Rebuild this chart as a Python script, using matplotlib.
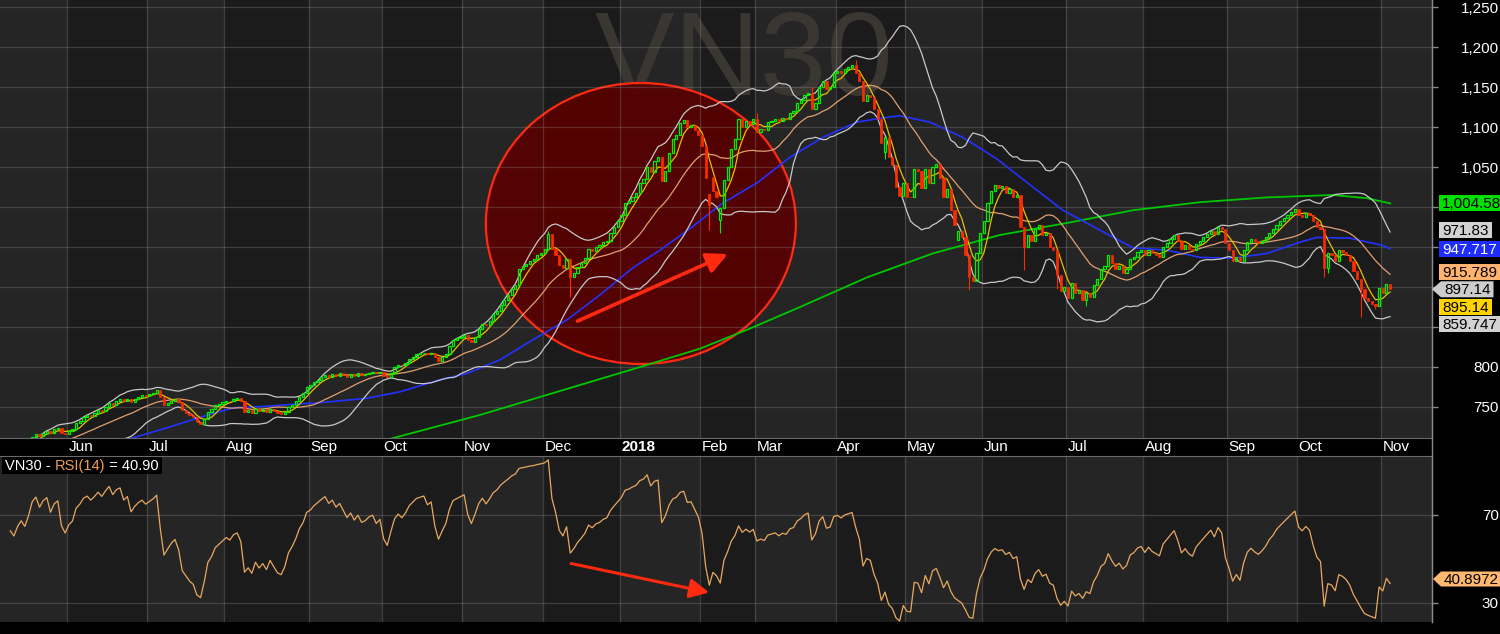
import numpy as np
import pandas as pd
import matplotlib
matplotlib.use("Agg")
import matplotlib.pyplot as plt
from matplotlib.patches import Rectangle, Ellipse, Polygon, FancyArrowPatch
from matplotlib.transforms import IdentityTransform, blended_transform_factory
from matplotlib.ticker import FuncFormatter

plt.rcParams['font.family'] = ['Liberation Sans', 'DejaVu Sans']

# ---------------- data (VN30 daily closes) ----------------
history_close = [690, 693, 690, 694, 691, 694, 690, 694, 692, 695,
                 692, 695, 693, 696, 699, 698, 701, 703, 702, 706]
close_may17 = [713, 716, 714, 718, 720, 717, 722, 724, 718, 716]
close_jun17 = [720, 722, 730, 733, 738, 740, 739, 742, 746, 745, 750, 755, 753, 758, 760, 757, 760, 756, 760, 763, 765, 764]
close_jul17 = [766, 768, 771, 762, 752, 755, 758, 760, 756, 746, 743, 740, 738, 731, 729, 735, 744, 747, 752, 754, 756]
close_aug17 = [758, 757, 760, 761, 758, 744, 746, 743, 748, 745, 747, 744, 748, 745, 742, 741, 744, 750, 753, 757, 763, 767, 775]
close_sep17 = [777, 781, 784, 787, 790, 788, 791, 789, 792, 790, 788, 791, 789, 792, 790, 791, 793, 794, 792, 794]
close_oct17 = [789, 787, 793, 800, 803, 802, 805, 810, 813, 816, 817, 818, 816, 818, 812, 808, 812, 816, 826, 834, 836, 838]
close_nov17 = [840, 834, 831, 838, 848, 854, 852, 858, 866, 870, 878, 884, 890, 898, 903, 922, 926, 929, 933, 935, 940, 943]
close_dec17 = [948, 966, 948, 940, 928, 924, 935, 913, 918, 925, 930, 936, 947, 945, 950, 952, 956, 958, 968, 975, 982]
close_jan18 = [990, 1005, 1008, 1013, 1017, 1030, 1035, 1050, 1044, 1058, 1062, 1033, 1045, 1068, 1085, 1090, 1105, 1109, 1100, 1102, 1096, 1090]
close_feb18 = [1076, 1036, 1002, 1020, 1013, 999, 1034, 1050, 1072, 1085, 1110, 1100, 1108, 1104, 1110]
close_mar18 = [1094, 1098, 1096, 1106, 1108, 1110, 1107, 1111, 1110, 1118, 1120, 1130, 1134, 1140, 1143, 1122, 1130, 1150, 1158, 1148, 1150, 1168]
close_apr18 = [1170, 1168, 1173, 1175, 1177, 1167, 1158, 1132, 1140, 1138, 1122, 1110, 1080, 1088, 1062, 1052, 1025, 1014, 1030]
close_may18 = [1013, 1012, 1047, 1045, 1024, 1048, 1030, 1050, 1054, 1036, 1012, 1022, 996, 978, 970, 962, 940, 912, 908, 942, 968]
close_jun18 = [982, 1005, 1020, 1028, 1024, 1026, 1018, 1022, 1012, 1015, 975, 950, 965, 958, 972, 978, 965, 968, 950, 946, 915, 895, 900]
close_jul18 = [886, 905, 893, 896, 884, 892, 888, 902, 910, 922, 926, 940, 930, 922, 926, 918, 922, 935, 938, 944, 946]
close_aug18 = [940, 946, 942, 940, 938, 950, 955, 960, 965, 958, 948, 952, 948, 946, 954, 958, 962, 966, 970, 966, 975, 972, 955]
close_sep18 = [946, 933, 938, 932, 946, 956, 960, 957, 955, 958, 962, 968, 972, 978, 982, 986, 990, 994, 998]
close_oct18 = [990, 988, 992, 990, 982, 975, 972, 924, 942, 940, 932, 946, 944, 940, 933, 920, 910, 898, 886, 882, 879, 876, 899]
close_nov18 = [893, 904, 897.14]

month_names = ['Jun', 'Jul', 'Aug', 'Sep', 'Oct', 'Nov', 'Dec', '2018', 'Feb', 'Mar',
               'Apr', 'May', 'Jun', 'Jul', 'Aug', 'Sep', 'Oct', 'Nov']
month_closes = [close_jun17, close_jul17, close_aug17, close_sep17, close_oct17, close_nov17,
                close_dec17, close_jan18, close_feb18, close_mar18, close_apr18, close_may18,
                close_jun18, close_jul18, close_aug18, close_sep18, close_oct18, close_nov18]

# opens differing from the previous close (gaps), and long wicks
open_override = {175: 1016, 176: 1037, 178: 984, 223: 1069, 243: 959}
low_override = {137: 888, 175: 971, 178: 968, 223: 1060, 246: 896, 261: 921, 270: 898,
                278: 876, 343: 912, 344: 918, 353: 862, 357: 872}
high_override = {131: 970, 188: 1118, 203: 1150, 215: 1184}

# 50-day (blue) and 200-day (green) averages (bar index, value)
ma50_idx = [15, 26.8, 35.8, 44.9, 54.2, 63.2, 67.8, 81.5, 90.5, 101.4, 108.8, 117.8, 126.8, 136.1,
            145.1, 154.1, 161.5, 169.7, 178.7, 188, 197, 206, 215.3, 221.6, 227.1, 235.3, 244.3,
            253.6, 263.4, 271.6, 280.9, 290.8, 300.1, 309.1, 318.1, 327.4, 336.4, 341, 350, 359, 361]
ma50_val = [708, 724, 737, 749, 751, 754, 755, 761, 769, 784, 792, 809, 834, 859,
            890, 924, 946, 973, 1005, 1030, 1062, 1087, 1106, 1111, 1114, 1106, 1087,
            1060, 1025, 996, 973, 949, 946, 937, 936, 942, 956, 962, 961, 952, 947.717]
ma200_idx = [86, 112.3, 134.2, 156.1, 172.5, 186.1, 199.8, 218.1, 236.1, 254.4, 272.7, 290.8,
             309.1, 327.4, 345.4, 354.7, 361]
ma200_val = [708, 740, 770, 800, 823, 848, 875, 912, 942, 965, 980, 996,
             1006, 1012, 1015, 1011, 1004.58]

tag_values = [1004.58, 971.83, 947.717, 915.789, 897.14, 895.14, 859.747]
tag_texts = ['1,004.58', '971.83', '947.717', '915.789', '897.14', '895.14', '859.747']
tag_face = ['#00e000', '#d2d2d2', '#1f2cff', '#ffb36e', '#cdcdcd', '#ffd400', '#d2d2d2']
tag_textc = ['black', 'black', 'white', 'black', 'black', 'black', 'black']
rsi_last_text = '40.8972'
rsi_last_value = 40.8972
rsi_title_value = '40.90'

# ---------------- derived series ----------------
first_idx = -len(close_may17)
closes = close_may17 + [v for m in month_closes for v in m]
idx = np.arange(first_idx, first_idx + len(closes))
month_start = []
pos = 0
for m in month_closes:
    month_start.append(pos)
    pos += len(m)

all_idx = np.arange(first_idx - len(history_close), first_idx + len(closes))
s = pd.Series(history_close + closes, index=all_idx, dtype=float)
ma5 = s.rolling(5).mean()
ma20 = s.rolling(20).mean()
sd20 = s.rolling(20).std(ddof=0)
bb_up = ma20 + 2 * sd20
bb_lo = ma20 - 2 * sd20
d = s.diff()
gain = d.clip(lower=0)
loss = -d.clip(upper=0)
ag = gain.ewm(alpha=1 / 14, adjust=True, min_periods=14).mean()
al = loss.ewm(alpha=1 / 14, adjust=True, min_periods=14).mean()
rsi = 100 - 100 / (1 + ag / al)

opens = s.shift(1)
for k, v in open_override.items():
    opens[k] = v
o = opens.loc[idx].values
c = s.loc[idx].values
body_lo = np.minimum(o, c)
body_hi = np.maximum(o, c)
lo = body_lo.copy()
hi = body_hi.copy()
for k, v in low_override.items():
    lo[k - first_idx] = v
for k, v in high_override.items():
    hi[k - first_idx] = v

# ---------------- figure ----------------
W, H = 1500, 634
fig = plt.figure(figsize=(15, 6.34), dpi=100, facecolor='black')
ax = fig.add_axes([0, 1 - 438 / H, 1432 / W, 438 / H])
ax2 = fig.add_axes([0, 1 - 622 / H, 1432 / W, 166 / H])

XMIN, XMAX = -18.8, 372.46
LIGHT, DARK = '#252525', '#1b1b1b'
GRID = '#9a9a9a'
GREEN_C, RED_C = '#00f000', '#ff2a00'

bounds = [XMIN] + [m - 0.5 for m in month_start] + [XMAX]
for a in (ax, ax2):
    a.set_xlim(XMIN, XMAX)
    a.set_facecolor(LIGHT)
    for k in range(len(bounds) - 1):
        col = DARK if k % 2 == 1 else LIGHT
        a.axvspan(bounds[k], bounds[k + 1], color=col, zorder=0, lw=0)
    for m in month_start:
        a.axvline(m - 0.5, color=GRID, alpha=0.28, lw=0.9, zorder=2)
    for sp in ('left', 'top', 'bottom'):
        a.spines[sp].set_visible(False)
    a.spines['right'].set_color('#8a8a8a')
    a.tick_params(axis='x', which='both', bottom=False, labelbottom=False)

# main panel
YMIN, YMAX = 711.25, 1258.75
ax.set_ylim(YMIN, YMAX)
pticks = list(range(750, 1251, 50))
for t in pticks:
    ax.axhline(t, color=GRID, alpha=0.28, lw=0.9, zorder=2)
ax.spines['bottom'].set_visible(True)
ax.spines['bottom'].set_color('#6a6a6a')

ax.text(0.5196, 0.852, 'VN30', transform=ax.transAxes, fontsize=86, color='#3a3631',
        ha='center', va='center', zorder=1)

circ = Ellipse((156.3, 979.4), 310 / 3.66, 281 / 0.8, facecolor='#580000', alpha=0.92,
               edgecolor='none', zorder=1.5)
ax.add_patch(circ)
circ_edge = Ellipse((156.3, 979.4), 310 / 3.66, 281 / 0.8, facecolor='none',
                    edgecolor='#ff2a10', lw=1.6, zorder=1.6)
ax.add_patch(circ_edge)

vis = ma5.index >= first_idx
ax.plot(ma200_idx, ma200_val, color='#00c800', lw=1.3, zorder=4)
ax.plot(ma50_idx, ma50_val, color='#2233ff', lw=1.2, zorder=4)
ax.plot(ma20.index[vis], bb_up[vis], color='#c8c8c8', lw=0.9, zorder=4)
ax.plot(ma20.index[vis], bb_lo[vis], color='#c8c8c8', lw=0.9, zorder=4)
ax.plot(ma20.index[vis], ma20[vis], color='#e0a070', lw=0.9, zorder=4)
ax.plot(ma5.index[vis], ma5[vis], color='#e8c000', lw=0.9, zorder=4.5)

up = c >= o
wcol = np.where(up, GREEN_C, RED_C)
ax.vlines(idx, lo, body_lo, colors=wcol, lw=0.8, zorder=5)
ax.vlines(idx, body_hi, hi, colors=wcol, lw=0.8, zorder=5)
ax.bar(idx[up], (c - o)[up], bottom=o[up], width=0.6, facecolor='none',
       edgecolor=GREEN_C, linewidth=0.9, zorder=6)
ax.bar(idx[~up], (o - c)[~up], bottom=c[~up], width=0.62, color=RED_C,
       edgecolor=RED_C, linewidth=0.5, zorder=6)

ax.add_patch(FancyArrowPatch((138.3, 856), (180.7, 942.5), arrowstyle='-|>,head_length=0.9,head_width=0.45',
                             mutation_scale=14, color='#ff2a10', lw=2.6, zorder=7))

ax.yaxis.tick_right()
ax.set_yticks(pticks)
ax.yaxis.set_major_formatter(FuncFormatter(lambda v, p: f"{v:,.0f}"))
ax.tick_params(axis='y', colors='#8a8a8a', labelcolor='white', labelsize=11, length=4,
               width=1, pad=44, direction='out')
for lbl in ax.get_yticklabels():
    lbl.set_horizontalalignment('right')

# month labels
btr = blended_transform_factory(ax.transData, ax.transAxes)
for name, m in zip(month_names, month_start):
    ax.text(m - 0.5 + 0.45, -0.0205, name, transform=btr, color='white', fontsize=11,
            ha='left', va='center', fontweight='bold' if name == '2018' else 'normal')

# RSI panel
RMIN, RMAX = 21.36, 96.8
ax2.set_ylim(RMIN, RMAX)
for t in (30, 70):
    ax2.axhline(t, color=GRID, alpha=0.28, lw=0.9, zorder=2)
ax2.spines['top'].set_visible(True)
ax2.spines['top'].set_color('#6a6a6a')
rvis = rsi.index >= -17
ax2.plot(rsi.index[rvis], rsi[rvis], color='#e8a860', lw=0.9, zorder=4)
ax2.add_patch(FancyArrowPatch((136.5, 48.2), (175.7, 34.5), arrowstyle='-|>,head_length=0.9,head_width=0.45',
                              mutation_scale=13, color='#ff2a10', lw=2.2, zorder=7))
ax2.yaxis.tick_right()
ax2.set_yticks([30, 70])
ax2.tick_params(axis='y', colors='#8a8a8a', labelcolor='white', labelsize=11, length=4,
                width=1, pad=44, direction='out')
for lbl in ax2.get_yticklabels():
    lbl.set_horizontalalignment('right')

fig.add_artist(plt.Line2D([1431.5 / W, 1431.5 / W], [1 - 622 / H, 1], transform=fig.transFigure,
                          color='#8a8a8a', lw=1))

# ---------------- value tags on the right ----------------
fig.canvas.draw()
renderer = fig.canvas.get_renderer()
ID = IdentityTransform()


def disp_y(a, v):
    return a.transData.transform((0, v))[1]


anchor = tag_texts.index('897.14')
ys = [disp_y(ax, v) for v in tag_values]
for k in range(anchor - 1, -1, -1):
    ys[k] = max(ys[k], ys[k + 1] + 17.5)
for k in range(anchor + 1, len(ys)):
    ys[k] = min(ys[k], ys[k - 1] - 17.5)

# price labels that sit under a tag are hidden by it
for lbl, t in zip(ax.get_yticklabels(), pticks):
    ty_ = disp_y(ax, t)
    if any(abs(ty_ - y) < 14 for y in ys):
        lbl.set_visible(False)

for k, (txt, y) in enumerate(zip(tag_texts, ys)):
    arrow = (k == anchor)
    x0 = 1441 if arrow else 1439
    t = fig.text(x0 + 3, y - 5, txt, transform=ID, color=tag_textc[k], fontsize=11,
                 ha='left', va='baseline', zorder=11)
    w = t.get_window_extent(renderer).width + 6
    if arrow:
        p = Polygon([(1432, y), (x0, y + 8), (x0 + w, y + 8), (x0 + w, y - 8), (x0, y - 8)],
                    closed=True, transform=ID, facecolor=tag_face[k], edgecolor='none', zorder=10)
    else:
        p = Rectangle((x0, y - 8), w, 16, transform=ID, facecolor=tag_face[k], edgecolor='none', zorder=10)
    fig.add_artist(p)

yr = disp_y(ax2, rsi_last_value)
t = fig.text(1444, yr - 5, rsi_last_text, transform=ID, color='black', fontsize=11,
             ha='left', va='baseline', zorder=11)
w = t.get_window_extent(renderer).width + 6
fig.add_artist(Polygon([(1433, yr), (1441, yr + 7.5), (1441 + w, yr + 7.5), (1441 + w, yr - 7.5),
                        (1441, yr - 7.5)], closed=True, transform=ID, facecolor='#ffb870',
                       edgecolor='none', zorder=10))

# RSI title
ty = H - 470
parts = [('VN30 - ', 'white'), ('RSI(14)', '#f0a050'), (' = ' + rsi_title_value, 'white')]
x = 5
for s_txt, col in parts:
    tt = fig.text(x, ty, s_txt, transform=ID, color=col, fontsize=10.5, ha='left',
                  va='baseline', zorder=11)
    x += tt.get_window_extent(renderer).width
fig.add_artist(Rectangle((2, H - 474), x - 2 + 3, 17, transform=ID, facecolor='black',
                         edgecolor='none', zorder=10))

fig.savefig('out.png', dpi=100, facecolor='black')
